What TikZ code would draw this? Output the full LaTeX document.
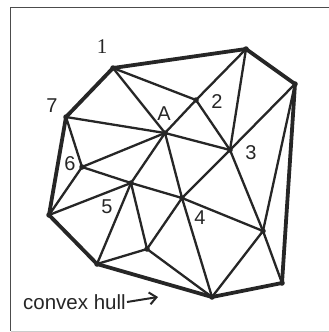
\documentclass[tikz,border=0pt]{standalone}
\usepackage{fontspec}
\setmainfont{Liberation Sans}
\newfontfamily\serifnum{Liberation Serif}
\usetikzlibrary{arrows.meta}
\definecolor{ink}{HTML}{262626}
\begin{document}
\begin{tikzpicture}[x=1pt,y=-1pt,
  edge/.style={draw=ink,line width=2.3pt,line cap=round},
  hull/.style={draw=ink,line width=3.8pt,line cap=round,line join=round},
  vtx/.style={circle,fill=ink,inner sep=0pt,minimum size=5.5pt},
  lbl/.style={text=ink,font=\fontsize{20}{20}\selectfont,inner sep=0pt}]
\useasboundingbox (0,0) rectangle (329,332);
\fill[white] (0,0) rectangle (329,332);
% frame
\draw[line width=1.8pt,draw=black!70] (10.5,331) -- (10.5,7.5) -- (329,7.5);
\draw[line width=0.8pt,draw=black!20] (10.5,331) -- (329,331);
% vertices
\node[vtx] (v1) at (113,68) {};
\node[vtx] (vT) at (246,49) {};
\node[vtx] (vR) at (295,84) {};
\node[vtx] (vD) at (282,283) {};
\node[vtx] (vC) at (212,297) {};
\node[vtx] (vB) at (97,264) {};
\node[vtx] (vL) at (49,215) {};
\node[vtx] (v7) at (66,117) {};
\node[vtx] (v2) at (196,100) {};
\node[vtx] (v3) at (230,150) {};
\node[vtx] (vA) at (165,133) {};
\node[vtx] (v6) at (82,167) {};
\node[vtx] (v5) at (131,183) {};
\node[vtx] (v4) at (182,198) {};
\node[vtx] (vP) at (263,231) {};
\node[vtx] (vQ) at (147,249) {};
% interior edges
\foreach \a/\b in {v1/v2,v1/vA,vT/v2,vT/v3,vR/v3,vR/vP,v2/vA,v2/v3,vA/v3,v7/vA,v7/v6,v6/vA,v6/vL,v6/v5,vL/v5,vA/v5,vA/v4,v3/v4,v3/vP,v5/v4,v4/vP,vP/vD,vP/vC,v4/vC,v4/vQ,v5/vQ,v5/vB,vQ/vB,vQ/vC}
  \draw[edge] (\a.center) -- (\b.center);
% convex hull
\draw[hull] (v1.center) -- (vT.center) -- (vR.center) -- (vD.center) -- (vC.center) -- (vB.center) -- (vL.center) -- (v7.center) -- cycle;
% labels
\node[lbl,font=\serifnum\fontsize{21}{21}\selectfont] (l1) at (102,47) {1};
\node[lbl] (l7) at (52,106) {7};
\node[lbl] (lA) at (164,114) {A};
\node[lbl] (l2) at (217,102) {2};
\node[lbl] (l3) at (251,153) {3};
\node[lbl] (l6) at (70,164) {6};
\node[lbl] (l5) at (107,207) {5};
\node[lbl] (l4) at (200,218) {4};
\node[lbl,anchor=west,font=\fontsize{20.5}{20.5}\selectfont] (ch) at (23,302) {convex hull};
\coordinate (arrEnd) at (158,297);
\draw[ink,line width=2pt,-{Straight Barb[length=7pt,width=12pt]}] (ch.east) ++(1,0) -- (arrEnd);
\end{tikzpicture}
\end{document}
